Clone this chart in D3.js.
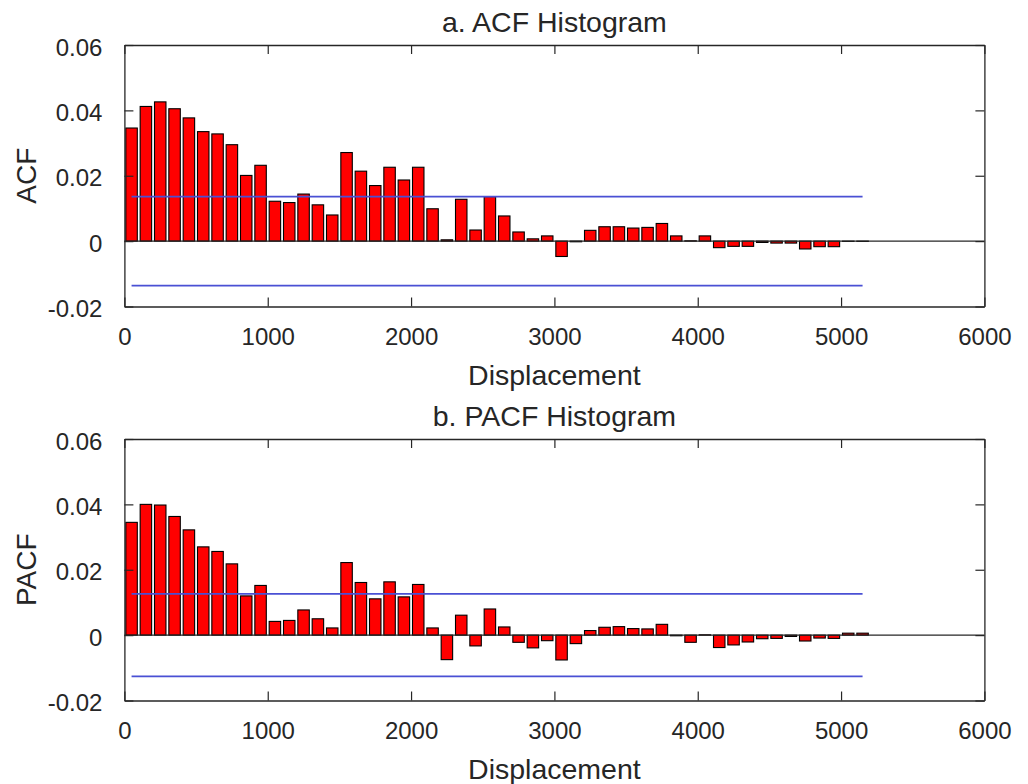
<!DOCTYPE html>
<html>
<head>
<meta charset="utf-8">
<script src="https://cdn.jsdelivr.net/npm/d3@7"></script>
<style>
  html, body { margin: 0; padding: 0; background: #fff; }
  svg { display: block; }
  text { font-family: "Liberation Sans", Arial, Helvetica, sans-serif; fill: #262626; }
</style>
</head>
<body>
<svg id="chart" width="1028" height="784"></svg>
<script>
// Lag positions (bin centres) along the displacement axis
const lags = [50, 150, 250, 350, 450, 550, 650, 750, 850, 950,
  1050, 1150, 1250, 1350, 1450, 1550, 1650, 1750, 1850, 1950,
  2050, 2150, 2250, 2350, 2450, 2550, 2650, 2750, 2850, 2950,
  3050, 3150, 3250, 3350, 3450, 3550, 3650, 3750, 3850, 3950,
  4050, 4150, 4250, 4350, 4450, 4550, 4650, 4750, 4850, 4950,
  5050, 5150];

// Autocorrelation at each lag
const acfValues = [0.0346, 0.0412, 0.0426, 0.0405, 0.0377, 0.0335, 0.0328, 0.0295, 0.0201, 0.0232,
  0.0122, 0.0118, 0.0144, 0.0111, 0.0080, 0.0271, 0.0214, 0.0170, 0.0226, 0.0187,
  0.0226, 0.0099, 0.0004, 0.0128, 0.0034, 0.0136, 0.0077, 0.0028, 0.0007, 0.0016,
  -0.0047, -0.0002, 0.0033, 0.0044, 0.0044, 0.0040, 0.0042, 0.0054, 0.0016, 0.0001,
  0.0016, -0.0020, -0.0016, -0.0016, -0.0004, -0.0006, -0.0006, -0.0024, -0.0017, -0.0017,
  -0.0001, -0.0001];

// Partial autocorrelation at each lag
const pacfValues = [0.0345, 0.0400, 0.0398, 0.0363, 0.0322, 0.0270, 0.0256, 0.0218, 0.0120, 0.0152,
  0.0042, 0.0045, 0.0077, 0.0050, 0.0022, 0.0222, 0.0161, 0.0111, 0.0163, 0.0117,
  0.0155, 0.0022, -0.0075, 0.0061, -0.0033, 0.0080, 0.0025, -0.0022, -0.0039, -0.0017,
  -0.0076, -0.0026, 0.0014, 0.0024, 0.0026, 0.0020, 0.0019, 0.0033, -0.0002, -0.0022,
  0.0001, -0.0038, -0.0030, -0.0021, -0.0011, -0.0010, -0.0004, -0.0018, -0.0009, -0.0010,
  0.0006, 0.0006];

// Significance bounds (upper, lower)
const acfBounds = [0.0136, -0.0136];
const pacfBounds = [0.0126, -0.0126];

const xTicks = [0, 1000, 2000, 3000, 4000, 5000, 6000];
const yTicks = [-0.02, 0, 0.02, 0.04, 0.06];
const yTickLabels = ["-0.02", "0", "0.02", "0.04", "0.06"];

const panels = [
  { title: "a. ACF Histogram", ylabel: "ACF", values: acfValues, bounds: acfBounds, top: 45 },
  { title: "b. PACF Histogram", ylabel: "PACF", values: pacfValues, bounds: pacfBounds, top: 439 }
];

const svg = d3.select("#chart");
const left = 124.4, right = 984.4, plotH = 261.5;
const axisColor = "#262626";
const tickLen = 9;

const x = d3.scaleLinear().domain([0, 6000]).range([left, right]);
const binW = (x(100) - x(0)) * 0.8;

panels.forEach(p => {
  const y = d3.scaleLinear().domain([-0.02, 0.06]).range([p.top + plotH, p.top]);
  const g = svg.append("g");

  // bars
  g.append("g").selectAll("rect")
    .data(p.values)
    .join("rect")
    .attr("x", (d, i) => x(lags[i]) - binW / 2)
    .attr("width", binW)
    .attr("y", d => y(Math.max(0, d)))
    .attr("height", d => Math.abs(y(d) - y(0)))
    .attr("fill", "#ff0000")
    .attr("stroke", "#000")
    .attr("stroke-width", 1.1);

  // zero baseline
  g.append("line")
    .attr("x1", left).attr("x2", right)
    .attr("y1", y(0)).attr("y2", y(0))
    .attr("stroke", axisColor).attr("stroke-width", 1.2);

  // significance bounds
  p.bounds.forEach(b => {
    g.append("line")
      .attr("x1", x(lags[0])).attr("x2", x(lags[lags.length - 1]))
      .attr("y1", y(b)).attr("y2", y(b))
      .attr("stroke", "#4a50d4").attr("stroke-width", 1.7);
  });

  // axes with inward ticks on all four sides
  const bottomAxis = d3.axisBottom(x).tickValues(xTicks).tickSizeInner(-tickLen).tickSizeOuter(0).tickPadding(21.5).tickFormat(d3.format("d"));
  const topAxis = d3.axisTop(x).tickValues(xTicks).tickSizeInner(-tickLen).tickSizeOuter(0).tickFormat("");
  const leftAxis = d3.axisLeft(y).tickValues(yTicks).tickSizeInner(-tickLen).tickSizeOuter(0).tickPadding(tickLen + 13)
    .tickFormat((d, i) => yTickLabels[i]);
  const rightAxis = d3.axisRight(y).tickValues(yTicks).tickSizeInner(-tickLen).tickSizeOuter(0).tickFormat("");

  const styleAxis = sel => {
    sel.select(".domain").attr("stroke", axisColor).attr("stroke-width", 1.3);
    sel.selectAll(".tick line").attr("stroke", axisColor).attr("stroke-width", 1.2);
    sel.selectAll(".tick text").attr("fill", axisColor).style("font-size", "24px")
      .style("font-family", '"Liberation Sans", Arial, Helvetica, sans-serif');
  };

  g.append("g").attr("transform", `translate(0,${p.top + plotH})`).call(bottomAxis).call(styleAxis)
    .selectAll(".tick text").attr("dy", "0.71em");
  g.append("g").attr("transform", `translate(0,${p.top})`).call(topAxis).call(styleAxis);
  g.append("g").attr("transform", `translate(${left},0)`).call(leftAxis).call(styleAxis)
    .selectAll(".tick text").attr("dy", "0.42em");
  g.append("g").attr("transform", `translate(${right},0)`).call(rightAxis).call(styleAxis);

  const cx = (left + right) / 2;
  g.append("text").attr("x", cx).attr("y", p.top - 13.5)
    .attr("text-anchor", "middle").style("font-size", "28.5px").text(p.title);
  g.append("text").attr("x", cx).attr("y", p.top + 340)
    .attr("text-anchor", "middle").style("font-size", "28.5px").text("Displacement");
  g.append("text")
    .attr("transform", `translate(36,${p.top + plotH / 2}) rotate(-90)`)
    .attr("text-anchor", "middle").style("font-size", "28px").text(p.ylabel);
});
</script>
</body>
</html>
